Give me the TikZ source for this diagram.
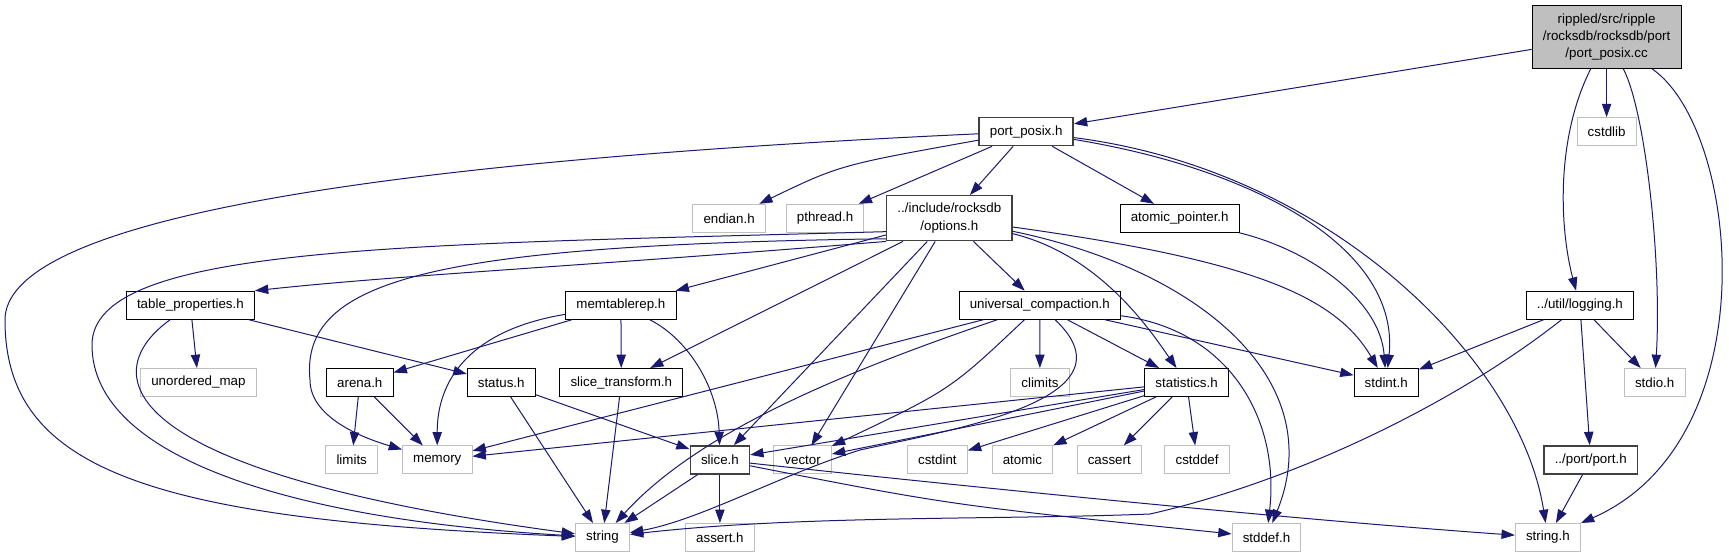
\documentclass[tikz,border=0pt]{standalone}
\usepackage{fontspec}
\setmainfont{Liberation Sans}
\usetikzlibrary{arrows.meta}
\definecolor{edgeblue}{HTML}{191970}
\definecolor{sysgray}{HTML}{BFBFBF}
\definecolor{darkline}{HTML}{404040}

\begin{document}
\begin{tikzpicture}[
  x=0.75pt, y=-0.75pt,
  hdr/.style={draw=black, fill=white, line width=0.75pt, align=center,
    minimum height=21pt, inner xsep=8pt, inner ysep=1pt,
    font=\fontsize{10}{13}\selectfont},
  sys/.style={hdr, draw=sysgray},
  deep/.style={hdr, draw=darkline, line width=1.1pt},
  top/.style={hdr, fill=sysgray},
  arr/.style={-{Triangle[length=10pt,width=7pt]}, draw=edgeblue, line width=0.75pt}
]
\useasboundingbox (0,0) rectangle (1729,557);
\node[top, minimum height=47pt] (root) at (1606.6,37.2) {rippled/src/ripple\\/rocksdb/rocksdb/port\\/port\_posix.cc};
\node[deep] (pposix) at (1026.2,131.6) {port\_posix.h};
\node[sys] (cstdlib) at (1606.6,131.6) {cstdlib};
\node[sys] (endian) at (729.1,218.3) {endian.h};
\node[sys] (pthread) at (825.1,218.3) {pthread.h};
\node[deep, minimum height=33.75pt] (options) at (949.3,218.2) {../include/rocksdb\\/options.h};
\node[hdr] (atomicptr) at (1179.7,218.3) {atomic\_pointer.h};
\node[hdr] (tableprop) at (190.4,305.2) {table\_properties.h};
\node[hdr] (memtable) at (620.9,305.2) {memtablerep.h};
\node[hdr] (univcomp) at (1039.8,305.2) {universal\_compaction.h};
\node[hdr] (logging) at (1579.9,305.2) {../util/logging.h};
\node[sys] (umap) at (198.4,382.5) {unordered\_map};
\node[hdr] (arena) at (359.8,382.5) {arena.h};
\node[hdr] (status) at (501.2,382.5) {status.h};
\node[hdr] (slicetf) at (621.3,382.5) {slice\_transform.h};
\node[sys] (climits) at (1039.9,382.5) {climits};
\node[hdr] (stats) at (1186.6,382.5) {statistics.h};
\node[hdr] (stdint) at (1386.2,382.5) {stdint.h};
\node[sys] (stdio) at (1654.7,382.5) {stdio.h};
\node[sys] (limits) at (351.7,459.9) {limits};
\node[sys] (memory) at (437.3,459.9) {memory};
\node[deep] (slice) at (719.9,459.9) {slice.h};
\node[sys] (vector) at (802.6,459.9) {vector};
\node[sys] (cstdint) at (937.4,459.9) {cstdint};
\node[sys] (atomic) at (1022.4,459.9) {atomic};
\node[sys] (cassert) at (1109.3,459.9) {cassert};
\node[sys] (cstddef) at (1197.1,459.9) {cstddef};
\node[deep] (porth) at (1590.7,459.9) {../port/port.h};
\node[sys] (string) at (602.5,537.5) {string};
\node[sys] (asserth) at (719.9,537.5) {assert.h};
\node[sys] (stddefh) at (1266.5,537.5) {stddef.h};
\node[sys] (stringh) at (1547.9,537.5) {string.h};

\draw[arr] (root) -- (pposix);
\draw[arr] (root) -- (cstdlib);
\draw[arr] (root) .. controls (1555,140) and (1560,230) .. (logging);
\draw[arr] (root) .. controls (1645,110) and (1662,260) .. (stdio);
\draw[arr] (root) .. controls (1740,130) and (1770,440) .. (stringh);

\draw[arr] (pposix) .. controls (300,165) and (5,230) .. (5,320) .. controls (5,470) and (150,520) .. (string);
\draw[arr] (pposix) .. controls (840,165) .. (endian);
\draw[arr] (pposix) -- (pthread);
\draw[arr] (pposix) -- (options);
\draw[arr] (pposix) -- (atomicptr);
\draw[arr] (pposix) .. controls (1260,170) and (1400,250) .. (stdint);
\draw[arr] (pposix) .. controls (1330,170) and (1520,360) .. (stringh);

\draw[arr] (options.-168) .. controls (400,245) and (92,245) .. (92,345) .. controls (92,460) and (300,520) .. (string);
\draw[arr] (options.-162) .. controls (430,245) and (300,280) .. (310,380) .. controls (310,420) and (370,440) .. (memory);
\draw[arr] (options.south west) .. controls (600,265) and (400,275) .. (tableprop.north east);
\draw[arr] (options) -- (memtable);
\draw[arr] (options) -- (slicetf);
\draw[arr] (options) -- (slice);
\draw[arr] (options) -- (vector);
\draw[arr] (options) -- (univcomp);
\draw[arr] (options) .. controls (1100,255) and (1150,330) .. (stats);
\draw[arr] (options) .. controls (1200,270) and (1330,380) .. (stddefh);
\draw[arr] (options) .. controls (1250,260) and (1335,295) .. (stdint);

\draw[arr] (atomicptr) .. controls (1310,250) and (1380,300) .. (stdint);

\draw[arr] (tableprop) .. controls (100,370) and (100,470) .. (string);
\draw[arr] (tableprop) -- (umap);
\draw[arr] (tableprop) -- (status);

\draw[arr] (memtable) -- (arena);
\draw[arr] (memtable) .. controls (470,330) and (437,380) .. (memory);
\draw[arr] (memtable) -- (slicetf);
\draw[arr] (memtable) .. controls (690,340) and (718,390) .. (slice);

\draw[arr] (univcomp) -- (memory);
\draw[arr] (univcomp) .. controls (850,370) and (700,430) .. (string);
\draw[arr] (univcomp) .. controls (1140,400) and (950,430) .. (860,450) .. controls (780,475) and (700,520) .. (string);
\draw[arr] (univcomp) .. controls (950,390) .. (vector);
\draw[arr] (univcomp) -- (climits);
\draw[arr] (univcomp) -- (stats);
\draw[arr] (univcomp) -- (stdint);
\draw[arr] (univcomp) .. controls (1230,330) and (1280,420) .. (stddefh);

\draw[arr] (logging) -- (stdint);
\draw[arr] (logging) .. controls (1460,400) and (1300,480) .. (1150,514) .. controls (1000,520) and (800,515) .. (string);
\draw[arr] (logging) -- (porth);
\draw[arr] (logging) -- (stdio);

\draw[arr] (arena) -- (limits);
\draw[arr] (arena) -- (memory);
\draw[arr] (status) -- (string);
\draw[arr] (status) -- (slice);
\draw[arr] (slicetf) -- (string);

\draw[arr] (stats) -- (memory);
\draw[arr] (stats) -- (slice);
\draw[arr] (stats) -- (vector);
\draw[arr] (stats) -- (cstdint);
\draw[arr] (stats) -- (atomic);
\draw[arr] (stats) -- (cassert);
\draw[arr] (stats) -- (cstddef);

\draw[arr] (slice) -- (string);
\draw[arr] (slice) -- (asserth);
\draw[arr] (slice) .. controls (950,505) .. (stddefh);
\draw[arr] (slice) .. controls (1000,490) and (1300,520) .. (stringh);

\draw[arr] (porth) -- (stringh);
\end{tikzpicture}
\end{document}
